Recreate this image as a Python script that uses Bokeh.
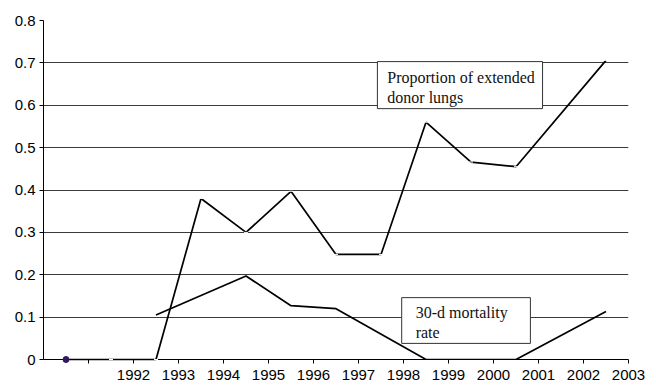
from bokeh.plotting import figure
from bokeh.models import FixedTicker, Range1d
from bokeh.core.properties import value
from bokeh.embed import file_html
from bokeh.resources import INLINE

# ---- data ----
tick_labels = ["", "1992", "1993", "1994", "1995", "1996", "1997", "1998",
               "1999", "2000", "2001", "2002", "2003"]
prop_slot = [0, 1, 2, 3, 4, 5, 6, 7, 8, 9, 10, 12]
prop_vals = [0, 0, 0, 0.38, 0.30, 0.397, 0.248, 0.248, 0.56, 0.466, 0.455, 0.706]
mort_slot = [2, 4, 5, 6, 8, 9, 10, 12]
mort_vals = [0.105, 0.197, 0.127, 0.12, 0, 0, 0, 0.113]
dot_slot = [0]
dot_vals = [0]
y_ticks = [0, 0.1, 0.2, 0.3, 0.4, 0.5, 0.6, 0.7, 0.8]
y_labels = ["0", "0.1", "0.2", "0.3", "0.4", "0.5", "0.6", "0.7", "0.8"]
grid_vals = [0.1, 0.2, 0.3, 0.4, 0.5, 0.6, 0.7]

n_slots = len(tick_labels)

p = figure(width=656, height=387, output_backend="svg", toolbar_location=None,
           x_range=Range1d(0, n_slots), y_range=Range1d(0, 0.8),
           min_border_left=43, min_border_right=28, min_border_top=20,
           min_border_bottom=28)
p.outline_line_color = None
p.background_fill_color = "white"
p.border_fill_color = "white"

# axes
p.xaxis.ticker = FixedTicker(ticks=list(range(1, n_slots + 1)))
p.xaxis.major_label_overrides = {i + 1: lab for i, lab in enumerate(tick_labels)}
p.yaxis.ticker = FixedTicker(ticks=y_ticks)
p.yaxis.major_label_overrides = {t: l for t, l in zip(y_ticks, y_labels)}
for ax in (p.xaxis[0], p.yaxis[0]):
    ax.axis_line_color = "black"
    ax.axis_line_width = 1
    ax.major_tick_line_color = "black"
    ax.major_tick_out = 4
    ax.major_tick_in = 0
    ax.minor_tick_line_color = None
    ax.major_label_text_font = "Liberation Sans"
    ax.major_label_text_font_size = "15px"
    ax.major_label_text_color = "black"
p.xaxis.major_label_standoff = 6
p.yaxis.major_label_standoff = 4

p.xgrid.grid_line_color = None
p.ygrid.ticker = FixedTicker(ticks=grid_vals)
p.ygrid.grid_line_color = "#3a3a3a"
p.ygrid.grid_line_width = 1

# series
px = [s + 0.5 for s in prop_slot]
mx = [s + 0.5 for s in mort_slot]
p.line(px, prop_vals, line_color="black", line_width=1.7, level="overlay")
p.scatter(px, prop_vals, marker="dash", size=4, line_color="white", line_width=1,
          level="overlay")
p.line(mx, mort_vals, line_color="black", line_width=1.7)
p.scatter([s + 0.5 for s in dot_slot], dot_vals, marker="circle", size=6,
          fill_color="#2e1a5c", line_color="#2e1a5c", level="overlay")

# text boxes
p.quad(left=[7.42], right=[11.09], top=[0.703], bottom=[0.592],
       fill_color="white", line_color="#333333", line_width=1)
p.text(x=[7.64, 7.64], y=[0.665, 0.618], text=["Proportion of extended", "donor lungs"],
       text_font=value("Liberation Serif"), text_font_size="16px",
       text_baseline="middle", text_color="#111111")

p.quad(left=[7.96], right=[10.82], top=[0.146], bottom=[0.038],
       fill_color="white", line_color="#333333", line_width=1)
p.text(x=[8.27, 8.27], y=[0.111, 0.064], text=["30-d mortality", "rate"],
       text_font=value("Liberation Serif"), text_font_size="16px",
       text_baseline="middle", text_color="#111111")

open("out.html", "w").write(file_html(p, INLINE))
